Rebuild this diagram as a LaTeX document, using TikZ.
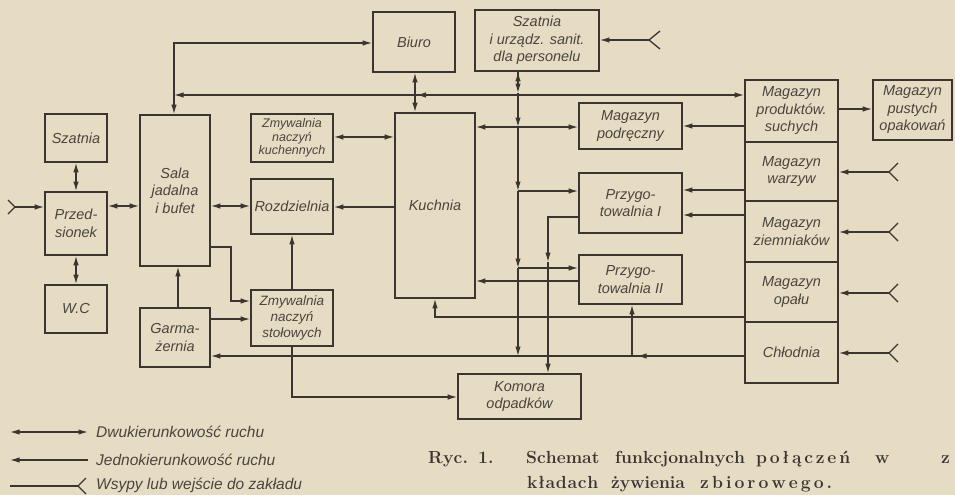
\documentclass[tikz,border=0pt]{standalone}
\usepackage{fontspec}
\newfontfamily\lab{Liberation Sans}
\usetikzlibrary{arrows.meta}
\definecolor{bgc}{HTML}{E6DCC4}
\definecolor{ink}{HTML}{3A3530}
\definecolor{txt}{HTML}{4A443D}
\def\lspx#1{\ifx\relax#1\else\hfil#1\expandafter\lspx\fi}
\def\lspy#1{#1\lspx}
\newcommand\spr[2]{\hbox to #1{\lspy#2\relax}}
\begin{document}
\begin{tikzpicture}[x=1pt,y=-1pt,
  box/.style={draw=ink, line width=1.7pt, inner sep=1pt, align=center, text=txt,
    font=\lab\itshape\fontsize{14.5}{17.5}\selectfont},
  ln/.style={draw=ink, line width=1.3pt},
  arr/.style={ln, -{Latex[length=9.5pt,width=5.5pt]}},
  dbl/.style={ln, {Latex[length=9.5pt,width=5.5pt]}-{Latex[length=9.5pt,width=5.5pt]}},
  leg/.style={text=txt, anchor=west, inner sep=0pt, font=\lab\itshape\fontsize{15.5}{18}\selectfont},
  capt/.style={anchor=base west, inner sep=0pt, text=ink, font=\rmfamily\bfseries\fontsize{17.5}{20}\selectfont}
]
\fill[bgc] (0,0) rectangle (955,495);
\useasboundingbox (0,0) rectangle (955,495);

% boxes
\node[box, minimum width=82pt, minimum height=60pt] (biuro) at (414,42) {Biuro};
\node[box, minimum width=124pt, minimum height=61pt] (szatp) at (537,40.5) {Szatnia\\i urządz. sanit.\\dla personelu};
\node[box, minimum width=62pt, minimum height=48pt] (szat) at (76,138) {Szatnia};
\node[box, minimum width=62pt, minimum height=63pt] (przed) at (76,223.5) {Przed-\\sionek};
\node[box, minimum width=62pt, minimum height=48pt] (wc) at (76,309) {W.C};
\node[box, minimum width=70pt, minimum height=151pt] (sala) at (175,190.5) {Sala\\jadalna\\i bufet};
\node[box, minimum width=82pt, minimum height=48pt, font=\lab\itshape\fontsize{12.5}{13.5}\selectfont] (zmk) at (292,138) {Zmywalnia\\naczyń\\kuchennych};
\node[box, minimum width=82pt, minimum height=55pt] (rozd) at (292,206.5) {Rozdzielnia};
\node[box, minimum width=80pt, minimum height=185pt] (kuch) at (435,205.5) {Kuchnia};
\node[box, minimum width=103pt, minimum height=46pt] (mpod) at (630.5,126) {Magazyn\\podręczny};
\node[box, minimum width=103pt, minimum height=60pt] (prz1) at (630.5,203) {Przygo-\\towalnia I};
\node[box, minimum width=103pt, minimum height=49pt] (prz2) at (630.5,279.5) {Przygo-\\towalnia II};
\node[box, minimum width=93pt, minimum height=62pt] (mps) at (791.5,111) {Magazyn\\produktów.\\suchych};
\node[box, minimum width=93pt, minimum height=59pt] (mw) at (791.5,171.5) {Magazyn\\warzyw};
\node[box, minimum width=93pt, minimum height=61pt] (mz) at (791.5,231.5) {Magazyn\\ziemniaków};
\node[box, minimum width=93pt, minimum height=60pt] (mo) at (791.5,292) {Magazyn\\opału};
\node[box, minimum width=93pt, minimum height=61pt] (chl) at (791.5,352.5) {Chłodnia};
\node[box, minimum width=79pt, minimum height=60pt] (mpo) at (912.5,110) {Magazyn\\pustych\\opakowań};
\node[box, minimum width=82pt, minimum height=56pt, font=\lab\itshape\fontsize{13.5}{16}\selectfont] (zms) at (292,318) {Zmywalnia\\naczyń\\stołowych};
\node[box, minimum width=70pt, minimum height=59pt] (garm) at (175,337.5) {Garma-\\żernia};
\node[box, minimum width=123pt, minimum height=45pt] (kom) at (519.5,396.5) {Komora\\odpadków};

% left side
\draw[dbl] (szat.south) -- (przed.north);
\draw[dbl] (przed.south) -- (wc.north);
\coordinate (e0) at (15,207);
\draw[ln] (8,200) -- (e0) -- (8,214);
\draw[arr] (e0) -- (przed.west |- e0);
\draw[dbl] (przed.east |- 0,206) -- (sala.west |- 0,206);
\draw[dbl] (sala.east |- 0,206) -- (rozd.west |- 0,206);
\draw[arr] (kuch.west |- 0,207) -- (rozd.east |- 0,207);
\draw[dbl] (zmk.east |- 0,137) -- (kuch.west |- 0,137);
\draw[dbl] (biuro.south -| 415,0) -- (kuch.north -| 415,0);
\draw[dbl] (sala.north -| 174,0) |- (biuro.west |- 0,43);
\coordinate (j1) at (174,95);
\draw[dbl] (j1) -- (mps.west |- 0,95);
\draw[arr] (434,95) -- (416.5,95);

% Szatnia personel entry
\coordinate (e1) at (649,40);
\draw[ln] (660,31) -- (e1) -- (660,49);
\draw[arr] (e1) -- (szatp.east |- e1);

% vertical line A
\coordinate (a1) at (518,93);
\coordinate (a2) at (518,127);
\coordinate (a3) at (518,191);
\coordinate (a4) at (518,268);
\coordinate (a5) at (518,356);
\draw[arr] (518,88) -- (szatp.south -| 518,0);
\draw[arr] (szatp.south -| 518,0) -- (a1);
\draw[arr] (a1) -- (a2);
\draw[arr] (a2) -- (a3);
\draw[arr] (a3) -- (a4);
\draw[arr] (a4) -- (a5);

% Kuchnia <-> podreczny
\draw[dbl] (kuch.east |- 0,127) -- (mpod.west |- 0,127);
\draw[arr] (mps.west |- 0,126) -- (mpod.east |- 0,126);
\draw[arr] (a3) -- (prz1.west |- a3);
\draw[arr] (mw.west |- 0,190) -- (prz1.east |- 0,190);
\draw[arr] (mz.west |- 0,215) -- (prz1.east |- 0,215);
% line B
\coordinate (b1) at (548,262);
\draw[arr] (prz1.west |- 0,217) -| (b1);
\draw[arr] (b1) -- (kom.north -| b1);
\draw[arr] (a4) -- (prz2.west |- a4);
\draw[arr] (prz2.west |- 0,281) -- (kuch.east |- 0,281);
\draw[arr] (mo.west |- 0,317) -| (kuch.south);
\coordinate (c1) at (632,356);
\draw[arr] (chl.west |- 0,356) -- (garm.east |- 0,356);
\draw[arr] (656,356) -- (637,356);
\draw[arr] (c1) -- (prz2.south -| c1);

% lower left
\draw[arr] (sala.east |- 0,247) -- (231,247) |- (zms.west |- 0,301);
\draw[arr] (garm.east |- 0,319) -- (zms.west |- 0,319);
\draw[arr] (garm.north -| 178,0) -- (sala.south -| 178,0);
\draw[arr] (zms.north) -- (rozd.south);
\draw[arr] (zms.south) |- (kom.west |- 0,397);

% right side
\draw[arr] (mps.east |- 0,109) -- (mpo.west |- 0,109);
\foreach \yy/\nn in {172/mw, 232/mz, 293/mo, 353/chl}{
  \draw[ln] (898,\yy-9) -- (889,\yy) -- (898,\yy+9);
  \draw[arr] (889,\yy) -- (\nn.east |- 0,\yy);
}

% legend
\coordinate (l1a) at (10,432); \coordinate (l1b) at (88,432);
\draw[dbl] (l1a) -- (l1b);
\node[leg] (t1) at (96,432) {Dwukierunkowość ruchu};
\coordinate (l2a) at (10,460); \coordinate (l2b) at (88,460);
\draw[arr] (l2b) -- (l2a);
\node[leg] (t2) at (96,460) {Jednokierunkowość ruchu};
\coordinate (l3a) at (10,486); \coordinate (l3b) at (78,486);
\draw[ln] (l3a) -- (l3b);
\draw[ln] (86,478) -- (l3b) -- (86,494);
\node[leg] (t3) at (96,485) {Wsypy lub wejście do zakładu};

% caption
\node[capt] (w1) at (428,463) {\spr{40pt}{Ryc.}};
\node[capt] (w2) at (478,463) {\spr{13pt}{1.}};
\node[capt] (w3) at (526,463) {\spr{70pt}{Schemat}};
\node[capt] (w4) at (615,463) {\spr{123pt}{funkcjonalnych}};
\node[capt] (w5) at (756,463) {\spr{94pt}{połączeń}};
\node[capt] (w6) at (875,463) {w};
\node[capt] (w7) at (941,463) {z};
\node[capt] (w8) at (527,488) {\spr{71pt}{kładach}};
\node[capt] (w9) at (611,488) {\spr{72pt}{żywienia}};
\node[capt] (w10) at (700,488) {\spr{132pt}{zbiorowego.}};
\end{tikzpicture}
\end{document}
